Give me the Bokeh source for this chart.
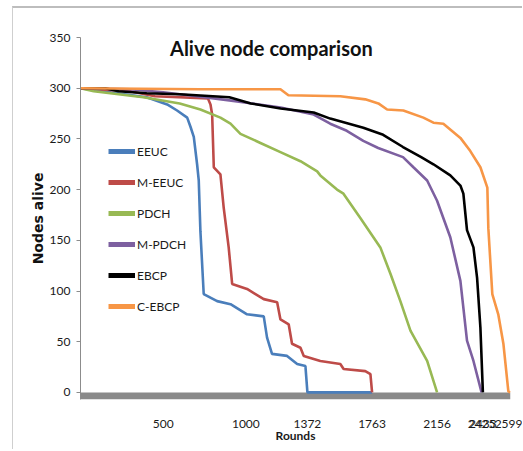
from bokeh.embed import file_html
from bokeh.models import FixedTicker, Label, Legend, LegendItem
from bokeh.plotting import figure
from bokeh.resources import INLINE

# ---- data: rounds vs. number of nodes still alive ----
eeuc_x = [0, 400, 524, 584, 645, 665, 685, 705, 715, 725, 745, 826, 907, 1007,
          1108, 1128, 1158, 1249, 1310, 1360, 1372, 1763]
eeuc_y = [300, 291, 284, 278, 271, 262, 252, 225, 209, 159, 97, 90, 87, 77,
          75, 54, 38, 36, 28, 26, 0, 0]

meeuc_x = [0, 300, 450, 770, 786, 796, 806, 846, 866, 896, 917, 1007, 1108,
           1189, 1209, 1259, 1279, 1330, 1350, 1450, 1571, 1591, 1722, 1753, 1763]
meeuc_y = [300, 297, 292, 290, 284, 274, 222, 215, 182, 143, 107, 102, 92,
           89, 72, 67, 48, 44, 36, 31, 28, 23, 21, 18, 0]

pdch_x = [0, 80, 380, 600, 725, 846, 907, 967, 1088, 1209, 1330, 1431, 1450,
          1551, 1590, 1692, 1813, 1874, 1934, 1995, 2096, 2156]
pdch_y = [300, 297, 291, 285, 279, 271, 265, 255, 246, 237, 228, 218, 214,
          200, 196, 172, 143, 117, 90, 61, 31, 0]

mpdch_x = [0, 300, 500, 700, 900, 1210, 1410, 1510, 1610, 1710, 1800, 1950,
           2013, 2096, 2156, 2236, 2297, 2337, 2376, 2425]
mpdch_y = [300, 299, 296, 292, 288, 281, 274, 265, 258, 248, 241, 232,
           222, 209, 189, 153, 110, 51, 31, 0]

ebcp_x = [0, 150, 230, 400, 600, 900, 1030, 1210, 1410, 1510, 1710, 1830,
          1950, 2060, 2134, 2236, 2297, 2315, 2337, 2376, 2398, 2418, 2433]
ebcp_y = [300, 300, 297, 295, 294, 291, 285, 280, 276, 270, 261, 254,
          242, 232, 225, 214, 204, 196, 160, 143, 113, 64, 0]

cebcp_x = [0, 725, 1209, 1257, 1571, 1722, 1801, 1854, 1952, 2073, 2134, 2194,
           2297, 2357, 2418, 2460, 2466, 2490, 2526, 2557, 2587, 2599]
cebcp_y = [300, 299, 299, 293, 292, 289, 285, 279, 278, 271, 266, 265,
           251, 238, 222, 202, 162, 97, 77, 48, 1, 0]

names = ["EEUC", "M-EEUC", "PDCH", "M-PDCH", "EBCP", "C-EBCP"]
series_x = [eeuc_x, meeuc_x, pdch_x, mpdch_x, ebcp_x, cebcp_x]
series_y = [eeuc_y, meeuc_y, pdch_y, mpdch_y, ebcp_y, cebcp_y]
colors = ["#4A7EBB", "#BE4B48", "#98B954", "#7D60A0", "#000000", "#F79646"]

x_ticks = [500, 1000, 1372, 1763, 2156, 2425, 2433, 2599]
y_ticks = [0, 50, 100, 150, 200, 250, 300, 350]

FONT = "Lato"

p = figure(width=510, height=443, output_backend="svg", toolbar_location=None,
           x_range=(0, 2600), y_range=(-7, 350),
           min_border_left=67, min_border_right=13,
           min_border_top=29, min_border_bottom=52,
           margin=(6, 0, 0, 12),
           styles={"border-top": "2px solid #bdbdbd",
                   "border-left": "1px solid #cfcfcf"})
p.outline_line_color = None
p.xgrid.visible = False
p.ygrid.visible = False
p.background_fill_color = "white"
p.border_fill_color = "white"

# grey floor under the x axis
p.quad(left=[0], right=[2600], bottom=[-7], top=[0],
       fill_color="#8a8a8a", line_color=None)

swatches = []
for xs, ys, c in zip(series_x, series_y, colors):
    p.line(xs, ys, line_color=c, line_width=2.6)
    # thicker off-range stand-in used only for the legend swatch
    swatches.append(p.line(x=[-500, -400], y=[-100, -100], line_color=c, line_width=5))

legend = Legend(items=[LegendItem(label=n, renderers=[r]) for n, r in zip(names, swatches)],
                location=(28, 83), orientation="vertical",
                glyph_width=27, glyph_height=20, label_height=20, spacing=11,
                label_standoff=2, padding=0, margin=0,
                border_line_color=None, background_fill_alpha=0,
                label_text_font=FONT, label_text_font_size="12px",
                label_text_color="#1a1a1a")
p.add_layout(legend, "center")

# y axis
p.yaxis.ticker = FixedTicker(ticks=y_ticks)
p.yaxis.axis_line_color = "#8c8c8c"
p.yaxis.major_tick_line_color = "#8c8c8c"
p.yaxis.major_tick_out = 4
p.yaxis.major_tick_in = 0
p.yaxis.minor_tick_line_color = None
p.yaxis.major_label_text_font = FONT
p.yaxis.major_label_text_font_size = "12px"
p.yaxis.major_label_text_color = "#1a1a1a"
p.yaxis.major_label_standoff = 6
p.yaxis.axis_label = "Nodes alive"
p.yaxis.axis_label_text_font = "DejaVu Sans"
p.yaxis.axis_label_text_font_size = "14px"
p.yaxis.axis_label_text_font_style = "bold"
p.yaxis.axis_label_text_color = "#111111"
p.yaxis.axis_label_standoff = 1

# x axis: labels only
p.xaxis.ticker = FixedTicker(ticks=x_ticks)
p.xaxis.axis_line_color = None
p.xaxis.major_tick_line_color = None
p.xaxis.minor_tick_line_color = None
p.xaxis.major_label_text_font = FONT
p.xaxis.major_label_text_font_size = "12px"
p.xaxis.major_label_text_color = "#1a1a1a"
p.xaxis.major_label_standoff = 14
p.xaxis.axis_label = "Rounds"
p.xaxis.axis_label_text_font = FONT
p.xaxis.axis_label_text_font_size = "12px"
p.xaxis.axis_label_text_font_style = "bold"
p.xaxis.axis_label_text_color = "#1a1a1a"
p.xaxis.axis_label_standoff = -3

p.add_layout(Label(x=1154, y=339.5, text="Alive node comparison",
                   text_font=FONT, text_font_size="20px",
                   text_font_style="bold", text_align="center",
                   text_baseline="middle", text_color="#111111"))

open("out.html", "w").write(file_html(p, INLINE))
